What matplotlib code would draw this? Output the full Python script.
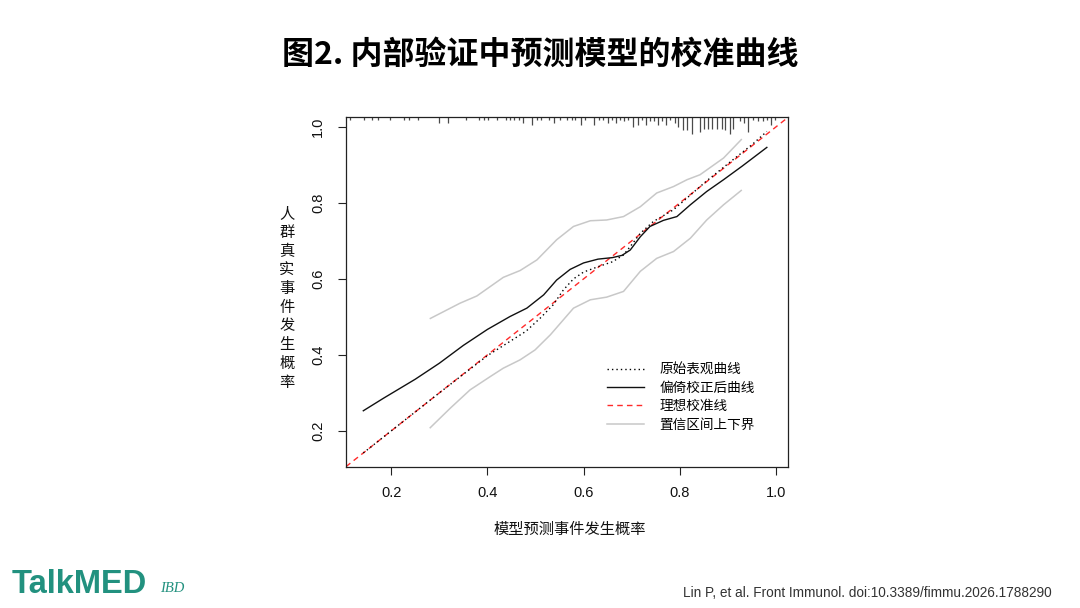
import matplotlib
matplotlib.use('Agg')
import matplotlib.pyplot as plt
from matplotlib.lines import Line2D

# ---------------- data ----------------
apparent_x = [0.142, 0.20, 0.30, 0.40, 0.44, 0.48, 0.51, 0.537, 0.558, 0.579, 0.60, 0.63,
              0.66, 0.683, 0.70, 0.718, 0.745, 0.787, 0.815, 0.856, 0.912, 0.95, 0.981]
apparent_y = [0.142, 0.20, 0.30, 0.398, 0.430, 0.462, 0.497, 0.532, 0.571, 0.600, 0.618, 0.632,
              0.645, 0.663, 0.690, 0.720, 0.751, 0.782, 0.813, 0.858, 0.915, 0.953, 0.988]

corrected_x = [0.142, 0.184, 0.25, 0.30, 0.35, 0.40, 0.447, 0.482, 0.517, 0.544, 0.572, 0.60,
               0.63, 0.66, 0.68, 0.697, 0.718, 0.738, 0.766, 0.794, 0.822, 0.856, 0.891, 0.93, 0.981]
corrected_y = [0.253, 0.286, 0.336, 0.378, 0.425, 0.467, 0.501, 0.523, 0.558, 0.597, 0.625, 0.642,
               0.652, 0.656, 0.662, 0.676, 0.711, 0.738, 0.754, 0.764, 0.795, 0.830, 0.861, 0.897, 0.946]

upper_x = [0.280, 0.343, 0.378, 0.433, 0.468, 0.503, 0.544, 0.579, 0.614, 0.648, 0.683, 0.718,
           0.752, 0.787, 0.815, 0.842, 0.891, 0.929]
upper_y = [0.495, 0.536, 0.555, 0.604, 0.622, 0.650, 0.703, 0.738, 0.753, 0.755, 0.764, 0.790,
           0.826, 0.843, 0.861, 0.874, 0.918, 0.968]

lower_x = [0.280, 0.323, 0.364, 0.406, 0.433, 0.468, 0.499, 0.531, 0.579, 0.614, 0.648, 0.683,
           0.718, 0.752, 0.787, 0.822, 0.856, 0.891, 0.929]
lower_y = [0.207, 0.260, 0.308, 0.343, 0.365, 0.387, 0.413, 0.453, 0.523, 0.545, 0.552, 0.567,
           0.620, 0.654, 0.672, 0.707, 0.755, 0.795, 0.834]

rug_x = [0.115, 0.144, 0.161, 0.172, 0.198, 0.227, 0.236, 0.255, 0.300, 0.318, 0.356, 0.383,
         0.392, 0.401, 0.420, 0.438, 0.447, 0.456, 0.465, 0.475, 0.492, 0.503, 0.512, 0.529,
         0.539, 0.550, 0.565, 0.575, 0.582, 0.594, 0.603, 0.622, 0.632, 0.640, 0.650, 0.659,
         0.668, 0.676, 0.685, 0.693, 0.703, 0.713, 0.721, 0.730, 0.738, 0.747, 0.755, 0.763,
         0.771, 0.780, 0.790, 0.797, 0.806, 0.814, 0.825, 0.842, 0.851, 0.859, 0.868, 0.877,
         0.887, 0.895, 0.904, 0.911, 0.925, 0.934, 0.942, 0.953, 0.963, 0.972, 0.981, 0.990,
         0.998]
rug_count = [1, 1, 1, 1, 1, 1, 1, 1, 3, 3, 1, 1,
             1, 1, 1, 1, 1, 1, 1, 3, 4, 1, 1, 1,
             3, 1, 1, 1, 1, 4, 1, 4, 1, 1, 3, 1,
             3, 1, 2, 1, 5, 4, 1, 4, 2, 2, 4, 2,
             4, 1, 3, 5, 7, 7, 9, 8, 6, 6, 6, 6,
             6, 7, 9, 6, 2, 3, 8, 1, 2, 2, 1, 4,
             1]

x_ticks = [0.2, 0.4, 0.6, 0.8, 1.0]
y_ticks = [0.2, 0.4, 0.6, 0.8, 1.0]
x_tick_labels = ['0.2', '0.4', '0.6', '0.8', '1.0']
y_tick_labels = ['0.2', '0.4', '0.6', '0.8', '1.0']

legend_labels = ['原始表观曲线', '偏倚校正后曲线', '理想校准线', '置信区间上下界']
title_text = '图2. 内部验证中预测模型的校准曲线'
xlabel_text = '模型预测事件发生概率'
ylabel_text = '人群真实事件发生概率'
citation_text = 'Lin P, et al. Front Immunol. doi:10.3389/fimmu.2026.1788290'

# ---------------- style ----------------
plt.rcParams['font.family'] = ['Liberation Sans', 'Noto Sans CJK SC', 'DejaVu Sans']
CJK = ['Noto Sans CJK SC', 'DejaVu Sans']
GRAY = '#c8c8c8'
RED = '#ff2a2a'
TEAL = '#22917f'

fig = plt.figure(figsize=(10.8, 6.08), dpi=100)
W, H = 1080, 608
ax = fig.add_axes([346 / W, 1 - 467 / H, 442 / W, 350 / H])

ax.plot(upper_x, upper_y, color=GRAY, lw=1.1, solid_capstyle='butt')
ax.plot(lower_x, lower_y, color=GRAY, lw=1.1, solid_capstyle='butt')
ax.axline((0, 0), slope=1, color=RED, lw=1.0, ls=(0, (4, 3)))
ax.plot(apparent_x, apparent_y, color='black', lw=1.0, ls=(0, (1, 2.2)))
ax.plot(corrected_x, corrected_y, color='#111111', lw=1.0)

# rug of predicted probabilities hanging from the top border
unit = 1.8 / 350.0
ax.vlines(rug_x, [1 - (c * unit + 0.002) for c in rug_count], 1,
          transform=ax.get_xaxis_transform(), color='#4a4a4a', lw=0.9, clip_on=False)

ax.set_xlim(0.106, 1.025)
ax.set_ylim(0.105, 1.026)
ax.set_xticks(x_ticks)
ax.set_xticklabels(x_tick_labels)
ax.set_yticks(y_ticks)
ax.set_yticklabels(y_tick_labels, rotation=90, va='center')
ax.tick_params(axis='both', direction='out', length=5.5, width=0.8, labelsize=10.5,
               color='#222222', labelcolor='#111111')
ax.tick_params(axis='x', pad=8.5)
ax.tick_params(axis='y', pad=9.5)
for s in ax.spines.values():
    s.set_linewidth(0.9)
    s.set_color('#222222')

handles = [Line2D([], [], color='black', lw=1.0, ls=(0, (1, 2.2))),
           Line2D([], [], color='#111111', lw=1.0),
           Line2D([], [], color=RED, lw=1.0, ls=(0, (4, 3))),
           Line2D([], [], color=GRAY, lw=1.1)]
leg = ax.legend(handles, legend_labels, loc='center left',
                bbox_to_anchor=(607 / W, 1 - 397 / H), bbox_transform=fig.transFigure,
                frameon=False, borderpad=0, borderaxespad=0, handlelength=2.75,
                handletextpad=1.1, labelspacing=0.32,
                prop={'family': CJK, 'size': 9.8})

# titles and labels
fig.text(540 / W, 1 - 55 / H, title_text, ha='center', va='center',
         family=CJK, fontsize=23, fontweight='bold', color='black')
fig.text(570 / W, 1 - 529 / H, xlabel_text, ha='center', va='center',
         family=CJK, fontsize=11, color='#111111')
y0, y1 = 214, 382
n = len(ylabel_text)
for i, ch in enumerate(ylabel_text):
    yy = y0 + (y1 - y0) * i / (n - 1)
    fig.text(287 / W, 1 - yy / H, ch, ha='center', va='center',
             family=CJK, fontsize=11, color='#111111')

# footer
fig.text(12 / W, 1 - 593 / H, 'TalkMED', ha='left', va='baseline',
         family=['Liberation Sans', 'DejaVu Sans'],
         fontsize=23.5, fontweight='bold', color=TEAL)
fig.text(160 / W, 1 - 588 / H, 'IBD', ha='left', va='center',
         family=['Liberation Serif', 'DejaVu Serif'], style='italic',
         fontsize=10.5, color=TEAL)
fig.text(1052 / W, 1 - 593 / H, citation_text, ha='right', va='center',
         family=['Liberation Sans', 'DejaVu Sans'],
         fontsize=9.8, color='#333333')

fig.savefig('out.png', dpi=100, facecolor='white')
